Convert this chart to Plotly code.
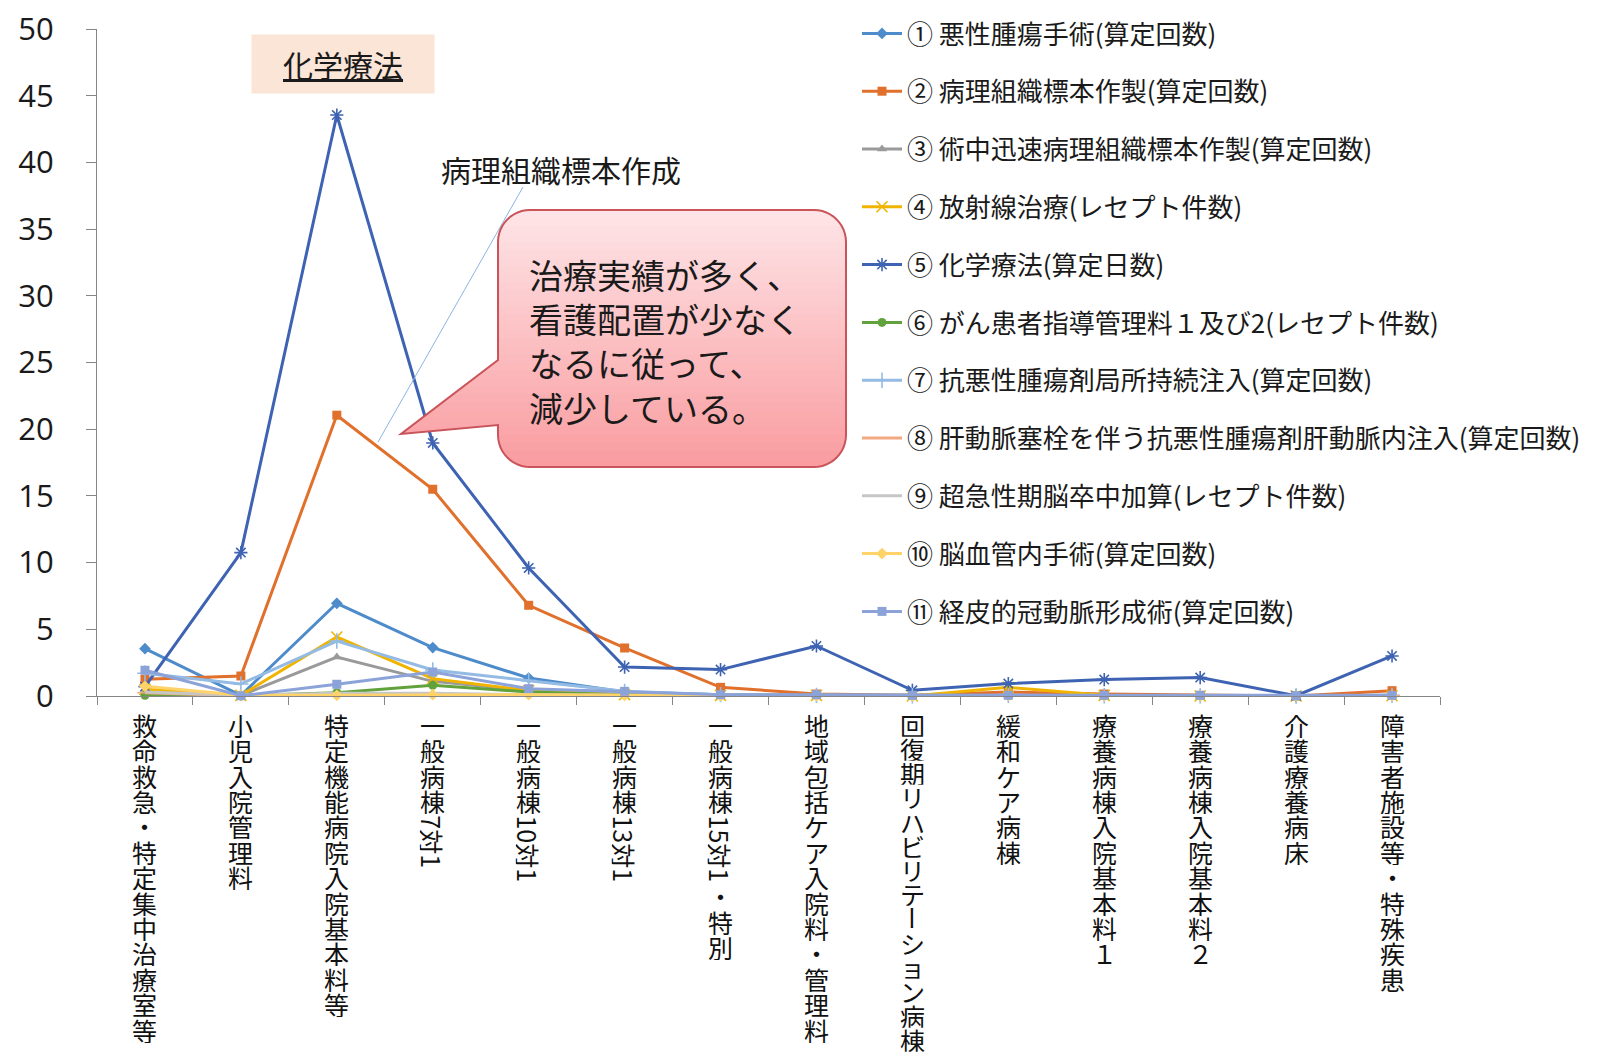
import re
import math
import plotly.graph_objects as go

# ---------------- data ----------------
categories = [
    "救命救急・特定集中治療室等", "小児入院管理料", "特定機能病院入院基本料等",
    "一般病棟7対1", "一般病棟10対1", "一般病棟13対1", "一般病棟15対1・特別",
    "地域包括ケア入院料・管理料", "回復期リハビリテーション病棟", "緩和ケア病棟",
    "療養病棟入院基本料１", "療養病棟入院基本料２", "介護療養病床", "障害者施設等・特殊疾患",
]

series_names = [
    "① 悪性腫瘍手術(算定回数)",
    "② 病理組織標本作製(算定回数)",
    "③ 術中迅速病理組織標本作製(算定回数)",
    "④ 放射線治療(レセプト件数)",
    "⑤ 化学療法(算定日数)",
    "⑥ がん患者指導管理料１及び2(レセプト件数)",
    "⑦ 抗悪性腫瘍剤局所持続注入(算定回数)",
    "⑧ 肝動脈塞栓を伴う抗悪性腫瘍剤肝動脈内注入(算定回数)",
    "⑨ 超急性期脳卒中加算(レセプト件数)",
    "⑩ 脳血管内手術(算定回数)",
    "⑪ 経皮的冠動脈形成術(算定回数)",
]

s1 = [3.55, 0.05, 6.95, 3.63, 1.35, 0.30, 0.10, 0.05, 0.02, 0.05, 0.02, 0.02, 0.00, 0.05]
s2 = [1.25, 1.50, 21.05, 15.50, 6.80, 3.60, 0.65, 0.15, 0.05, 0.30, 0.15, 0.05, 0.00, 0.40]
s3 = [0.30, 0.05, 2.92, 1.10, 0.40, 0.10, 0.05, 0.02, 0.00, 0.02, 0.00, 0.00, 0.00, 0.02]
s4 = [0.50, 0.05, 4.42, 1.30, 0.40, 0.10, 0.05, 0.05, 0.00, 0.65, 0.05, 0.00, 0.00, 0.02]
s5 = [0.70, 10.75, 43.55, 18.97, 9.60, 2.17, 1.98, 3.75, 0.43, 0.93, 1.23, 1.38, 0.02, 3.00]
s6 = [0.05, 0.02, 0.25, 0.80, 0.30, 0.10, 0.05, 0.05, 0.00, 0.05, 0.05, 0.02, 0.00, 0.02]
s7 = [1.70, 0.90, 4.12, 1.95, 1.15, 0.35, 0.10, 0.05, 0.02, 0.05, 0.02, 0.02, 0.00, 0.05]
s8 = [0.25, 0.02, 0.10, 0.10, 0.10, 0.05, 0.02, 0.02, 0.00, 0.02, 0.00, 0.00, 0.00, 0.02]
s9 = [0.30, 0.05, 0.20, 0.20, 0.10, 0.05, 0.02, 0.02, 0.02, 0.02, 0.00, 0.00, 0.00, 0.02]
s10 = [0.73, 0.05, 0.05, 0.10, 0.10, 0.05, 0.02, 0.02, 0.00, 0.02, 0.00, 0.00, 0.00, 0.02]
s11 = [1.93, 0.02, 0.88, 1.80, 0.55, 0.35, 0.10, 0.10, 0.05, 0.05, 0.05, 0.05, 0.02, 0.05]
series_values = [s1, s2, s3, s4, s5, s6, s7, s8, s9, s10, s11]

y_tick_values = [0, 5, 10, 15, 20, 25, 30, 35, 40, 45, 50]

callout_lines = ["治療実績が多く、", "看護配置が少なく", "なるに従って、", "減少している。"]
box_label = "化学療法"
leader_label = "病理組織標本作成"

# ---------------- styles ----------------
colors = ["#4D8BCB", "#E0702B", "#9A9A9A", "#F0B400", "#3E63B2", "#62A23C",
          "#93BBE3", "#F2A982", "#C6C6C6", "#FFD36A", "#8CA3DA"]
symbols = ["diamond", "square", "triangle-up", "x-thin-open", "asterisk-open", "circle",
           "cross-thin-open", "line-ew-open", None, "diamond", "square"]

# page body has an 8px margin: the figure starts at (8, 8) in the window
OFF = 8
VW, VH = 1614, 1058
W, H = VW - OFF, VH - OFF
# plot area in window pixels
PL, PR, PT, PB = 97, 1440, 29, 696


def px(x):
    return (x - PL) / (PR - PL)


def py(y):
    return (PB - y) / (PB - PT)


fig = go.Figure()
for name, vals, col, sym in zip(series_names, series_values, colors, symbols):
    kw = dict(x=categories, y=vals, name=name, legendgroup=name,
              line=dict(color=col, width=3), cliponaxis=False)
    if sym is None:
        kw["mode"] = "lines"
    else:
        kw["mode"] = "lines+markers"
        if sym.endswith("open"):
            kw["marker"] = dict(symbol=sym, size=11, color=col, line=dict(color=col, width=1.6))
        else:
            kw["marker"] = dict(symbol=sym, size=9, color=col, line=dict(color=col, width=0))
    fig.add_trace(go.Scatter(**kw))

# ---------------- vertical category labels ----------------
annotations = []
F = 25
P_DEFAULT = 25.4
top_gap = 16.5
avail = VH - PB - top_gap - 6
for cat in categories:
    tokens = re.findall(r"[0-9]+対[0-9]+|.", cat)
    heights = []
    for t in tokens:
        if re.match(r"[0-9]+対[0-9]+", t):
            heights.append(None)
        else:
            heights.append(1.0)
    # pitch so that the column fits in the space below the axis
    rot_total = sum(F * (0.56 * (len(t) - 1) + 1.0) + 3 for t, hh in zip(tokens, heights) if hh is None)
    n_up = sum(1 for hh in heights if hh is not None)
    P = min(P_DEFAULT, (avail - rot_total) / max(n_up, 1))
    cum = 0.0
    for t, hh in zip(tokens, heights):
        angle = 0
        h = P
        extra = dict(height=P - 0.5)
        if hh is None:
            nd = len(t) - 1
            h = F * (0.56 * nd + 1.0) + 3
            angle = 90
            extra = dict(height=F)
        elif t == "ー":
            angle = 90
            extra = dict(width=P - 0.5, height=F)
        annotations.append(dict(
            x=cat, xref="x", y=0, yref="paper", yanchor="middle", xanchor="center",
            yshift=-(top_gap + cum + h / 2), text=t, textangle=angle, showarrow=False,
            borderpad=0, font=dict(size=F, color="#111111", family="Noto Sans CJK JP"),
            **extra))
        cum += h

# ---------------- callout & labels ----------------
annotations.append(dict(
    x=px(343), y=py(64), xref="paper", yref="paper", xanchor="center", yanchor="middle",
    text=box_label, showarrow=False, bgcolor="#FBE5D6", width=180, height=56, borderpad=1,
    font=dict(size=30, color="#1a1a1a", family="Noto Sans CJK JP", lineposition="under")))
annotations.append(dict(
    x=px(561), y=py(169), xref="paper", yref="paper", xanchor="center", yanchor="middle",
    text=leader_label, showarrow=False,
    font=dict(size=30, color="#1a1a1a", family="Noto Sans CJK JP")))
annotations.append(dict(
    x=px(527), y=py(341), xref="paper", yref="paper", xanchor="left", yanchor="middle",
    align="left", text="<br>".join(callout_lines), showarrow=False,
    font=dict(size=34, color="#1a1a1a", family="Noto Sans CJK JP")))

shapes = [dict(type="line", xref="paper", yref="paper", x0=px(523), y0=py(187),
               x1=px(378), y1=py(442), line=dict(color="#8DB4E2", width=1), layer="above")]

L, T, R, B, r = 498, 210, 846, 467, 32


def arc(cx, cy, a0, a1, n=12):
    return [(cx + r * math.cos(math.radians(a0 + (a1 - a0) * i / n)),
             cy + r * math.sin(math.radians(a0 + (a1 - a0) * i / n))) for i in range(n + 1)]


poly = []
poly += arc(L + r, T + r, 180, 270)
poly += arc(R - r, T + r, 270, 360)
poly += arc(R - r, B - r, 0, 90)
poly += arc(L + r, B - r, 90, 180)
poly += [(L, 425), (401, 434), (L, 360)]


def clip(pg, yk):
    out = []
    n = len(pg)
    for i in range(n):
        cur, prev = pg[i], pg[i - 1]
        cin, pin = cur[1] >= yk, prev[1] >= yk
        if cin != pin:
            t = (yk - prev[1]) / (cur[1] - prev[1])
            out.append((prev[0] + t * (cur[0] - prev[0]), yk))
        if cin:
            out.append(cur)
    return out


def to_path(pg):
    return "M " + " L ".join(f"{px(x):.5f},{py(y):.5f}" for x, y in pg) + " Z"


c_top = (254, 229, 231)
c_bot = (249, 156, 160)
N = 32
for k in range(N):
    yk = T + k * (B - T) / N
    f = (k + 0.5) / N
    c = tuple(round(c_top[i] + (c_bot[i] - c_top[i]) * f) for i in range(3))
    pg = clip(poly, yk)
    if len(pg) >= 3:
        shapes.append(dict(type="path", xref="paper", yref="paper", path=to_path(pg),
                           fillcolor=f"rgb{c}", line=dict(width=0), layer="above"))
shapes.append(dict(type="path", xref="paper", yref="paper", path=to_path(poly),
                   fillcolor="rgba(0,0,0,0)", line=dict(color="#C9545A", width=2), layer="above"))

fig.update_layout(
    width=W, height=H,
    margin=dict(l=PL - OFF, r=VW - PR, t=PT - OFF, b=VH - PB, autoexpand=False),
    paper_bgcolor="white", plot_bgcolor="white",
    font=dict(family="Noto Sans CJK JP", color="#1a1a1a"),
    showlegend=True,
    legend=dict(x=px(857), y=py(10), xanchor="left", yanchor="top", maxheight=900,
                font=dict(size=26, color="#1a1a1a", family="Noto Sans CJK JP"),
                itemwidth=40, tracegroupgap=21, bgcolor="rgba(0,0,0,0)"),
    xaxis=dict(type="category", range=[-0.5, 13.5], showline=True, linecolor="#868686",
               linewidth=1, ticks="outside", tickson="boundaries", ticklen=8,
               tickcolor="#868686", showticklabels=False, showgrid=False, zeroline=False,
               automargin=False),
    yaxis=dict(range=[0, 50], tickvals=y_tick_values, showline=True, linecolor="#868686",
               linewidth=1, ticks="outside", ticklen=10, tickcolor="#868686",
               tickfont=dict(family="Open Sans", size=31, color="#1a1a1a"),
               ticklabelstandoff=26, ticklabeloverflow="allow",
               showgrid=False, zeroline=False, automargin=False),
    annotations=annotations,
    shapes=shapes,
)

fig.write_html("out.html")
